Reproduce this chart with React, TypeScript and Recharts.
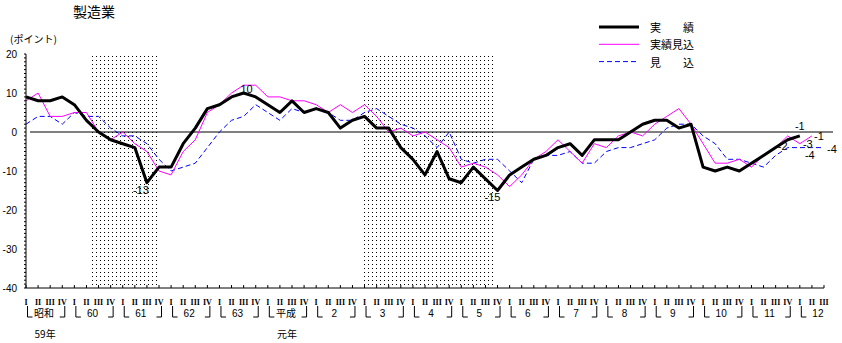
import { LineChart, Line, XAxis, YAxis, ReferenceArea, ReferenceLine, LabelList } from 'recharts';

// 四半期 (昭和59年I期 〜 平成12年III期)
const YEARS = ['昭和', '60', '61', '62', '63', '平成', '2', '3', '4', '5', '6', '7', '8', '9', '10', '11', '12'];
const ERA_NOTES: Record<number, string> = { 0: '59年', 5: '元年' };
const QUARTERS = ['I', 'II', 'III', 'IV'];
const QUARTER_COUNT = 67;

// 実績
const ACTUAL = [
  9, 8, 8, 9, 7, 3, 0, -2, -3, -4, -13, -9, -9, -3, 1, 6, 7, 9, 10, 9, 7, 5, 8, 5, 6, 5, 1, 3, 4, 1, 1, -4, -7,
  -11, -5, -12, -13, -9, -12, -15, -11, -9, -7, -6, -4, -3, -6, -2, -2, -2, 0, 2, 3, 3, 1, 2, -9, -10, -9, -10,
  -8, -6, -4, -2, -1,
];
// 実績見込
const ESTIMATE = [
  8, 10, 4, 4, 5, 5, 0, -2, 0, -3, -5, -10, -11, -5, -2, 5, 7, 10, 12, 12, 9, 9, 8, 8, 7, 5, 7, 5, 7, 4, 0, 1,
  -1, 0, -2, -4, -9, -8, -9, -11, -14, -11, -7, -5, -2, -5, -8, -3, -4, -1, 0, -1, 2, 4, 6, 2, -3, -8, -8, -7,
  -9, -6, -4, -1, -3, -1,
];
// 見込
const FORECAST = [
  2, 4, 4, 2, 5, 4, 4, 1, -1, -1, -3, -7, -10, -9, -8, -4, 0, 3, 4, 7, 5, 3, 6, 5, 6, 5, 3, 3, 5, 6, 4, 2, 1,
  -1, -4, 0, -7, -8, -7, -7, -10, -13, -7, -6, -6, -5, -8, -8, -5, -4, -4, -3, -2, 1, 2, 2, -1, -3, -7, -7, -8,
  -9, -6, -4, -4, -4, -4,
];

// 景気後退期 (四半期位置)
const RECESSIONS = [
  [5.3, 11],
  [27.9, 38.7],
];
const Y_MINOR = Array.from({ length: 61 }, (_, k) => -40 + k);

const data = Array.from({ length: QUARTER_COUNT }, (_, i) => ({
  idx: i,
  actual: ACTUAL[i],
  estimate: ESTIMATE[i],
  forecast: FORECAST[i],
}));
const X_TICKS = data.map((d) => d.idx);

const FONT = "'Liberation Sans', 'Noto Sans CJK JP', sans-serif";
const CJK = "'Noto Sans CJK JP', sans-serif";

function QuarterTick(props: any) {
  const { x, y, payload } = props;
  const i = payload.value as number;
  const q = i % 4;
  const yr = Math.floor(i / 4);
  return (
    <g>
      <line x1={x} y1={y} x2={x} y2={y - 3} stroke="#000" />
      <text x={x} y={y + 17} textAnchor="middle" fontSize={8} fontWeight="bold" fontFamily="'Liberation Serif', serif" fill="#000">
        {QUARTERS[q]}
      </text>
      {q === 0 && <path d={`M${x + 1.5},${y + 18} V${y + 29} H${x + 6.5}`} stroke="#000" fill="none" />}
      {q === 3 && <path d={`M${x + 2.5},${y + 18} V${y + 29} H${x - 2.5}`} stroke="#000" fill="none" />}
      {q === 1 && (
        <text x={x + 6} y={y + 29} textAnchor="middle" fontSize={10} fontFamily={FONT} fill="#000">
          {YEARS[yr]}
        </text>
      )}
      {q === 1 && ERA_NOTES[yr] && (
        <text x={x + 7} y={y + 50} textAnchor="middle" fontSize={10} fontFamily={CJK} fill="#000">
          {ERA_NOTES[yr]}
        </text>
      )}
    </g>
  );
}

function ValueTick(props: any) {
  const { x, y, payload } = props;
  if (payload.value % 10 !== 0) return null;
  return (
    <text x={x} y={y} dy={4} textAnchor="end" fontSize={10} fontFamily={FONT} fill="#000">
      {payload.value}
    </text>
  );
}

// 指定した点だけに値を表示
const pointLabel = (offsets: Record<number, [number, number]>) => (props: any) => {
  const { x, y, value, index } = props;
  const off = offsets[index];
  if (!off || value == null) return null;
  return (
    <text x={x + off[0]} y={y + off[1]} textAnchor="middle" dominantBaseline="central" fontSize={11} fontFamily={FONT} fill="#000">
      {value}
    </text>
  );
};

function LegendBox() {
  const rows = [
    { label: '実　　績', stroke: '#000', width: 3, dash: undefined },
    { label: '実績見込', stroke: '#ff00ff', width: 1, dash: undefined },
    { label: '見　　込', stroke: '#0000ff', width: 1, dash: '5 3' },
  ];
  return (
    <svg width={110} height={56} style={{ position: 'absolute', left: 596, top: 18 }}>
      {rows.map((r, k) => (
        <g key={r.label}>
          <line x1={3} x2={43} y1={9 + k * 17.3} y2={9 + k * 17.3} stroke={r.stroke} strokeWidth={r.width} strokeDasharray={r.dash} />
          <text x={54} y={9 + k * 17.3} dominantBaseline="central" fontSize={11} fontFamily={CJK} fill="#000">
            {r.label}
          </text>
        </g>
      ))}
    </svg>
  );
}

export default function App() {
  return (
    <div style={{ position: 'absolute', left: 0, top: 0, width: 842, height: 343, background: '#fff' }}>
      <LineChart width={842} height={343} data={data} margin={{ top: 54, right: 18, bottom: 0, left: 0 }}>
        <defs>
          <pattern id="dots" width="4" height="4" patternUnits="userSpaceOnUse">
            <rect width="1" height="1" fill="#000" />
          </pattern>
        </defs>
        {RECESSIONS.map(([a, b]) => (
          <ReferenceArea key={a} x1={a} x2={b} y1={-40} y2={20} fill="url(#dots)" fillOpacity={1} stroke="none" />
        ))}
        <XAxis
          dataKey="idx"
          type="number"
          domain={[0, QUARTER_COUNT - 1]}
          ticks={X_TICKS}
          interval={0}
          tickSize={0}
          tickMargin={0}
          tickLine={false}
          height={55}
          axisLine={{ stroke: '#000' }}
          tick={<QuarterTick />}
        />
        <YAxis
          type="number"
          domain={[-40, 20]}
          ticks={Y_MINOR}
          interval={0}
          width={26}
          tickSize={2}
          tickMargin={7}
          axisLine={{ stroke: '#000' }}
          tickLine={{ stroke: '#000' }}
          tick={<ValueTick />}
        />
        <ReferenceLine
          y={0}
          stroke="#000"
          shape={(p: any) => <line x1={p.x1 + 4} y1={p.y1} x2={p.x2 + 9} y2={p.y2} stroke="#000" strokeWidth={1} />}
        />
        <Line dataKey="forecast" stroke="#0000ff" strokeWidth={1} strokeDasharray="5 3" dot={false} activeDot={false} isAnimationActive={false}>
          <LabelList dataKey="forecast" content={pointLabel({ 64: [10, 7], 66: [8, 1] })} />
        </Line>
        <Line dataKey="estimate" stroke="#ff00ff" strokeWidth={1} dot={false} activeDot={false} isAnimationActive={false}>
          <LabelList dataKey="estimate" content={pointLabel({ 64: [8, 0], 65: [7, 0] })} />
        </Line>
        <Line dataKey="actual" stroke="#000" strokeWidth={3} strokeLinejoin="round" dot={false} activeDot={false} isAnimationActive={false}>
          <LabelList dataKey="actual" content={pointLabel({ 10: [-6, 7], 18: [3, -4], 39: [-5, 6], 63: [-5, 6], 64: [0, -10] })} />
        </Line>
      </LineChart>
      <div style={{ position: 'absolute', left: 73, top: 1, fontSize: 14, fontFamily: CJK }}>製造業</div>
      <div style={{ position: 'absolute', left: 10, top: 31, fontSize: 10, fontFamily: CJK }}>(ポイント)</div>
      <LegendBox />
    </div>
  );
}
